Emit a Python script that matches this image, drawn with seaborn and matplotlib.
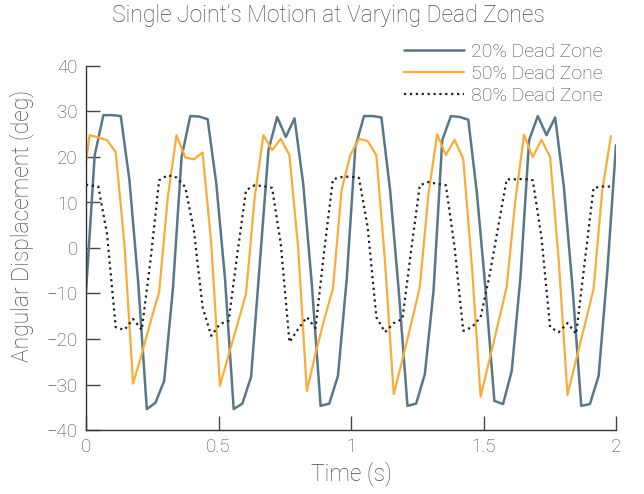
import numpy as np
import pandas as pd
import matplotlib
matplotlib.use("Agg")
import matplotlib.pyplot as plt
import seaborn as sns

# time stamps: 20% zone sampled on one clock, the other two on a slightly shifted one
t_20 = np.linspace(0, 2, 62)
t_other = np.r_[0, t_20[:-1] + 0.0137]

dz20 = [-9.7, 20.4, 29.2, 29.2, 29.0, 14.9, -7.4, -35.4, -34.0, -29.2,
        -9.0, 20.0, 29.0, 28.9, 28.3, 14.1, -6.8, -35.4, -34.2, -28.3,
        -3.5, 21.5, 28.8, 24.4, 28.5, 14.1, -8.2, -34.7, -34.2, -28.1,
        -7.0, 22.2, 29.0, 29.0, 28.7, 12.7, -9.5, -34.7, -34.2, -27.7,
        -9.4, 23.7, 29.0, 28.8, 28.2, 11.9, -9.5, -33.6, -34.3, -27.0,
        -6.5, 23.7, 29.0, 24.8, 28.7, 13.4, -8.8, -34.7, -34.3, -28.1,
        -5.2, 22.6]

dz50 = [18.9,
        24.8, 24.3, 23.7, 21.1, 0.9, -29.8, -23.3, -16.3, -9.7, 11.2,
        24.8, 19.9, 19.5, 21.0, 1.0, -30.3, -23.5, -16.8, -10.1, 11.2,
        24.8, 21.5, 24.0, 20.4, 0.0, -31.4, -23.2, -15.7, -9.0, 12.7,
        20.4, 24.0, 23.5, 20.4, -3.0, -32.1, -24.6, -16.7, -8.6, 11.9,
        25.0, 20.4, 23.8, 19.6, -4.0, -32.7, -24.7, -16.7, -8.6, 10.5,
        24.9, 20.0, 23.8, 20.0, -3.0, -32.3, -24.5, -16.8, -9.0, 12.7,
        24.6]

dz80 = [13.9,
        13.8, 13.5, 3.1, -17.4, -18.0, -15.6, -18.0, -2.8, 14.9, 16.0,
        15.5, 13.4, 3.9, -13.0, -19.3, -16.7, -16.0, -1.3, 12.7, 13.8,
        13.6, 13.2, 0.9, -20.7, -17.8, -15.2, -17.6, -0.6, 15.1, 15.6,
        15.7, 15.4, 4.6, -15.2, -18.5, -16.5, -15.6, -0.6, 13.8, 14.5,
        14.1, 13.8, 0.2, -18.2, -17.4, -15.2, -6.3, 4.4, 15.1, 15.1,
        15.2, 14.9, 2.4, -17.4, -18.5, -16.5, -18.9, -2.8, 13.2, 13.5,
        13.5]

labels = ["20% Dead Zone", "50% Dead Zone", "80% Dead Zone"]

sns.set_style("ticks")
plt.rcParams["font.family"] = ["Roboto", "DejaVu Sans"]
plt.rcParams["font.weight"] = "light"
plt.rcParams["axes.labelweight"] = "light"

grey = "#4a4a4a"
fig = plt.figure(figsize=(6.44, 4.94), dpi=100)
ax = fig.add_axes([86 / 644, 64 / 494, 530 / 644, 364 / 494])

sns.lineplot(x=t_20, y=dz20, ax=ax, color="#587887", lw=1.8, label=labels[0],
             estimator=None, sort=False)
sns.lineplot(x=t_other, y=dz50, ax=ax, color="#f9ac3a", lw=1.6, label=labels[1],
             estimator=None, sort=False)
sns.lineplot(x=t_other, y=dz80, ax=ax, color="#222222", lw=1.6, label=labels[2],
             estimator=None, sort=False, linestyle=":")

ax.set_xlim(0, 2)
ax.set_ylim(-40, 40)
ax.set_xticks([0, 0.5, 1, 1.5, 2])
ax.set_xticklabels(["0", "0.5", "1", "1.5", "2"])
ax.set_yticks(range(-40, 41, 10))
ax.tick_params(direction="in", length=10, width=1, color="#444444",
               labelcolor=grey, labelsize=13.5, pad=6)
sns.despine(ax=ax)
for s in ["left", "bottom"]:
    ax.spines[s].set_color("#333333")
    ax.spines[s].set_linewidth(1)

ax.set_xlabel("Time (s)", fontsize=16.5, color=grey)
ax.set_ylabel("Angular Displacement (deg)", fontsize=16.5, color=grey)
ax.xaxis.set_label_coords(0.5, -0.085)
ax.yaxis.set_label_coords(-0.098, 0.56)

fig.text(328 / 644, 1 - 22 / 494, "Single Joint\u2019s Motion at Varying Dead Zones",
         ha="center", va="baseline", fontsize=16.5, color=grey)

ax.legend(loc="upper left", bbox_to_anchor=(404 / 644, 1 - 43 / 494),
          bbox_transform=fig.transFigure, frameon=False, fontsize=14,
          handlelength=3.1, handletextpad=0.35, labelspacing=0.2,
          borderpad=0, borderaxespad=0, labelcolor=grey)

fig.savefig("out.png", dpi=100)
